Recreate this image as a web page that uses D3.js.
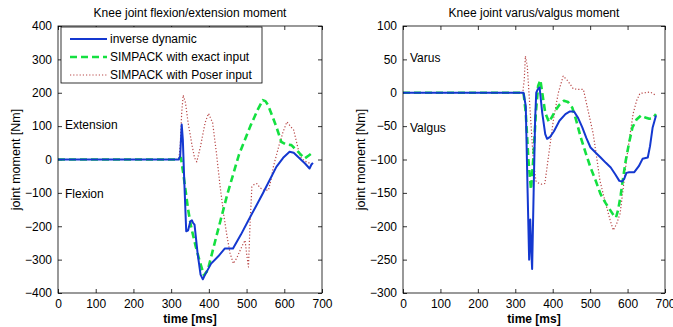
<!DOCTYPE html>
<html>
<head>
<meta charset="utf-8">
<script src="https://cdn.jsdelivr.net/npm/d3@7"></script>
<style>
  body { margin: 0; background: #fff; }
  svg { font-family: "Liberation Sans", Arial, sans-serif; }
  .axis path, .axis line { stroke: #000; stroke-width: 0.8; }
  .axis text { font-size: 12px; fill: #000; }
</style>
</head>
<body>
<svg id="chart" width="673" height="327"></svg>
<script>
// flexion/extension moment [ms, Nm]
const flexInverse = [[0,0],[320,0],[324,10],[328,105],[331,60],[334,-40],[340,-215],[345,-212],[351,-185],[355,-182],[358,-190],[362,-195],
  [370,-280],[378,-345],[384,-359],[390,-345],[406,-312],[425,-290],[442,-267],[464,-267],[485,-225],[505,-182],[525,-140],
  [543,-102],[562,-60],[579,-22],[597,5],[614,23],[625,20],[641,3],[655,-12],[667,-27],[672,-15],[676,-10]];
const flexExact = [[0,0],[320,0],[326,5],[332,-40],[345,-150],[353,-202],[365,-260],[375,-302],[387,-347],[397,-332],
  [420,-230],[450,-100],[480,15],[510,100],[530,150],[543,178],[550,175],[557,163],[570,125],[579,98],[592,53],
  [605,45],[619,43],[635,25],[654,3],[665,12],[672,18]];
const flexPoser = [[0,0],[320,0],[324,40],[328,140],[332,193],[338,170],[345,110],[355,45],[362,5],[368,-7],[378,40],
  [390,110],[399,138],[410,110],[420,20],[430,-82],[440,-170],[447,-222],[456,-280],[465,-312],[474,-295],[483,-272],
  [490,-255],[496,-242],[501,-290],[505,-322],[509,-200],[514,-82],[520,-75],[527,-72],[536,-85],[545,-92],[558,-92],
  [565,-60],[571,-22],[585,38],[596,80],[607,113],[616,100],[625,88],[634,45],[642,8],[655,-5],[669,-12],[675,-18]];

// varus/valgus moment [ms, Nm]
const varInverse = [[0,0],[322,0],[328,-20],[333,-150],[337,-250],[340,-190],[343,-240],[345,-264],[349,-150],[353,-40],
  [356,0],[360,5],[365,8],[372,-30],[380,-62],[385,-69],[393,-66],[403,-58],[418,-42],[434,-32],[446,-28],[457,-28],
  [468,-38],[479,-52],[490,-68],[501,-82],[515,-90],[528,-97],[542,-105],[555,-112],[567,-122],[578,-132],[585,-133],
  [591,-129],[597,-120],[604,-119],[618,-119],[630,-110],[640,-99],[654,-97],[660,-80],[667,-52],[676,-34]];
const varExact = [[0,0],[322,0],[328,-30],[335,-100],[342,-145],[348,-100],[355,-30],[361,10],[367,19],[372,0],[380,-30],
  [390,-44],[398,-36],[407,-27],[418,-18],[430,-12],[441,-14],[452,-22],[462,-40],[475,-67],[488,-90],[501,-112],
  [515,-132],[528,-152],[541,-165],[555,-177],[562,-183],[569,-187],[575,-175],[582,-152],[588,-128],[595,-102],
  [604,-75],[613,-52],[624,-40],[636,-34],[647,-37],[658,-39],[668,-38],[676,-32]];
const varPoser = [[0,0],[320,0],[324,20],[327,55],[332,40],[340,-30],[348,-100],[355,-132],[361,-135],[370,-137],
  [379,-136],[390,-90],[402,-40],[415,0],[428,25],[440,18],[455,6],[468,5],[482,5],[495,-28],[508,-61],[517,-95],
  [526,-131],[535,-152],[544,-171],[553,-190],[562,-206],[571,-196],[580,-181],[588,-145],[597,-101],[606,-65],
  [615,-31],[624,-12],[633,-1],[646,0],[660,1],[667,-1],[673,-3]];

const xTicks = [0, 100, 200, 300, 400, 500, 600, 700];
const flexTicks = [-400, -300, -200, -100, 0, 100, 200, 300, 400];
const varTicks = [-300, -250, -200, -150, -100, -50, 0, 50, 100];

const seriesNames = ["inverse dynamic", "SIMPACK with exact input", "SIMPACK with Poser input"];
const styles = [
  { color: "#1438d0", width: 2, dash: null },
  { color: "#14e040", width: 2.6, dash: "7,4" },
  { color: "#b84848", width: 1.2, dash: "1.2,2" }
];

const svg = d3.select("#chart");

function panel(opts) {
  const x = d3.scaleLinear().domain([0, 700]).range([opts.x0, opts.x1]);
  const y = d3.scaleLinear().domain(opts.yDomain).range([opts.y1, opts.y0]);
  const g = svg.append("g");

  g.append("g").attr("class", "axis").attr("transform", `translate(0,${opts.y1})`)
    .call(d3.axisBottom(x).tickValues(xTicks).tickSizeInner(-4).tickSizeOuter(0).tickPadding(6));
  g.append("g").attr("class", "axis").attr("transform", `translate(0,${opts.y0})`)
    .call(d3.axisTop(x).tickValues(xTicks).tickSizeInner(-4).tickSizeOuter(0).tickFormat(""));
  g.append("g").attr("class", "axis").attr("transform", `translate(${opts.x0},0)`)
    .call(d3.axisLeft(y).tickValues(opts.yTicks).tickSizeInner(-4).tickSizeOuter(0).tickPadding(6));
  g.append("g").attr("class", "axis").attr("transform", `translate(${opts.x1},0)`)
    .call(d3.axisRight(y).tickValues(opts.yTicks).tickSizeInner(-4).tickSizeOuter(0).tickFormat(""));
  g.selectAll(".axis .domain").remove();

  const line = d3.line().x(d => x(d[0])).y(d => y(d[1]));
  const clipId = "clip" + opts.id;
  g.append("clipPath").attr("id", clipId).append("rect")
    .attr("x", opts.x0).attr("y", opts.y0).attr("width", opts.x1 - opts.x0).attr("height", opts.y1 - opts.y0);

  // poser first, then exact, inverse on top
  [2, 1, 0].forEach(i => {
    const s = styles[i];
    g.append("path").datum(opts.series[i])
      .attr("clip-path", `url(#${clipId})`)
      .attr("fill", "none")
      .attr("stroke", s.color)
      .attr("stroke-width", s.width)
      .attr("stroke-dasharray", s.dash)
      .attr("stroke-linejoin", "round")
      .attr("d", line);
  });

  g.append("rect").attr("x", opts.x0).attr("y", opts.y0)
    .attr("width", opts.x1 - opts.x0).attr("height", opts.y1 - opts.y0)
    .attr("fill", "none").attr("stroke", "#000").attr("stroke-width", 0.8);

  g.append("text").attr("x", (opts.x0 + opts.x1) / 2).attr("y", 17)
    .attr("text-anchor", "middle").attr("font-size", 12).text(opts.title);
  g.append("text").attr("x", (opts.x0 + opts.x1) / 2).attr("y", 323)
    .attr("text-anchor", "middle").attr("font-size", 12).attr("font-weight", "bold").text("time [ms]");
  g.append("text").attr("transform", `translate(${opts.x0 - 38},${(opts.y0 + opts.y1) / 2}) rotate(-90)`)
    .attr("text-anchor", "middle").attr("font-size", 12.5).text("joint moment [Nm]");

  opts.notes.forEach(n => {
    g.append("text").attr("x", opts.x0 + 7).attr("y", y(n[1])).attr("dy", "0.35em")
      .attr("font-size", 12).text(n[0]);
  });
  return { x, y, g };
}

panel({
  id: 1, x0: 58, x1: 322, y0: 26, y1: 293, yDomain: [-400, 400], yTicks: flexTicks,
  title: "Knee joint flexion/extension moment",
  series: [flexInverse, flexExact, flexPoser],
  notes: [["Extension", 104], ["Flexion", -102]]
});

panel({
  id: 2, x0: 403, x1: 665, y0: 26, y1: 293, yDomain: [-300, 100], yTicks: varTicks,
  title: "Knee joint varus/valgus moment",
  series: [varInverse, varExact, varPoser],
  notes: [["Varus", 53], ["Valgus", -52]]
});

// legend
const lg = svg.append("g");
lg.append("rect").attr("x", 61).attr("y", 27).attr("width", 201).attr("height", 56)
  .attr("fill", "#fff").attr("stroke", "#000").attr("stroke-width", 0.8);
seriesNames.forEach((name, i) => {
  const yy = 39 + i * 18;
  const s = styles[i];
  lg.append("line").attr("x1", 70).attr("x2", 107).attr("y1", yy).attr("y2", yy)
    .attr("stroke", s.color).attr("stroke-width", s.width).attr("stroke-dasharray", s.dash);
  lg.append("text").attr("x", 110).attr("y", yy).attr("dy", "0.35em").attr("font-size", 12).text(name);
});
</script>
</body>
</html>
